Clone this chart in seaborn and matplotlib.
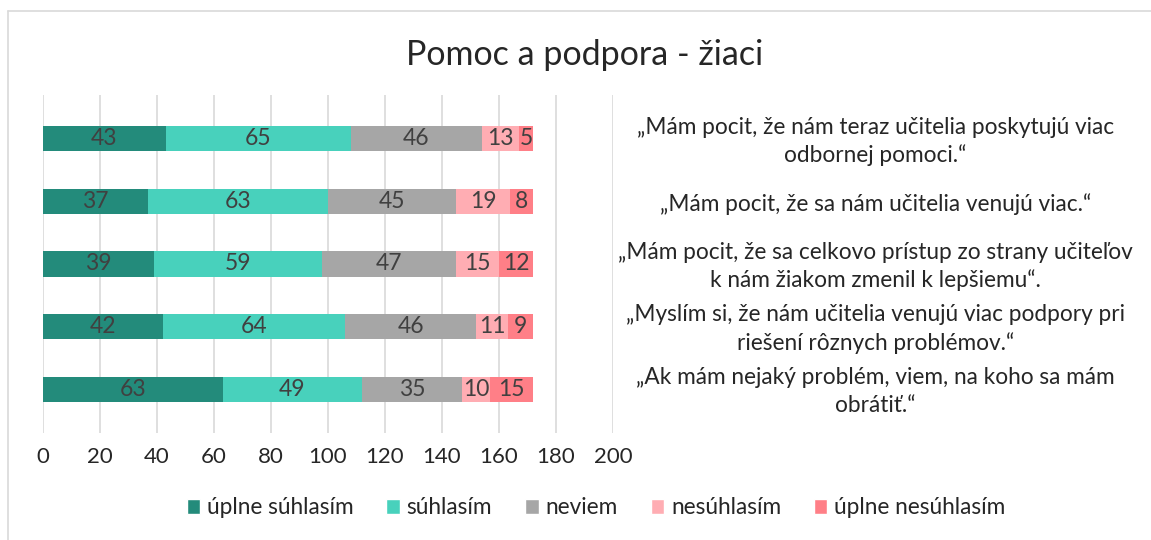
import pandas as pd
import matplotlib
matplotlib.use("Agg")
import matplotlib.pyplot as plt
from matplotlib.lines import Line2D
from matplotlib.patches import Patch
import seaborn as sns

# vyroky (poradie zhora nadol)
vyroky = [
    "„Mám pocit, že nám teraz učitelia poskytujú viac\nodbornej pomoci.“",
    "„Mám pocit, že sa nám učitelia venujú viac.“",
    "„Mám pocit, že sa celkovo prístup zo strany učiteľov\nk nám žiakom zmenil k lepšiemu“.",
    "„Myslím si, že nám učitelia venujú viac podpory pri\nriešení rôznych problémov.“",
    "„Ak mám nejaký problém, viem, na koho sa mám\nobrátiť.“",
]
odpovede = ["úplne súhlasím", "súhlasím", "neviem", "nesúhlasím", "úplne nesúhlasím"]
uplne_suhlasim = [43, 37, 39, 42, 63]
suhlasim = [65, 63, 59, 64, 49]
neviem = [46, 45, 47, 46, 35]
nesuhlasim = [13, 19, 15, 11, 10]
uplne_nesuhlasim = [5, 8, 12, 9, 15]
farby = ["#238b7b", "#48d1bc", "#a6a6a6", "#ffadb3", "#ff7f87"]

sns.set_style("white")
plt.rcParams["font.family"] = ["Lato", "DejaVu Sans"]

df = pd.DataFrame({
    "vyrok": vyroky,
    odpovede[0]: uplne_suhlasim,
    odpovede[1]: suhlasim,
    odpovede[2]: neviem,
    odpovede[3]: nesuhlasim,
    odpovede[4]: uplne_nesuhlasim,
})
# kumulativne sucty pre skladane stlpce
kum = df[odpovede].cumsum(axis=1)

fig = plt.figure(figsize=(11.51, 5.4), dpi=100)
ax = fig.add_axes([43 / 1151, 1 - 433 / 540, 570 / 1151, 338 / 540])

# najprv najdlhsi, potom kratsie cez neho
for i in range(len(odpovede) - 1, -1, -1):
    sns.barplot(x=kum[odpovede[i]], y=df["vyrok"], orient="h", color=farby[i],
                width=0.4, saturation=1, ax=ax, zorder=3, linewidth=0)

# hodnoty v stlpcoch
for j in range(len(df)):
    for i, o in enumerate(odpovede):
        hodnota = df[o].iloc[j]
        stred = kum[o].iloc[j] - hodnota / 2
        ax.text(stred, j, str(hodnota), ha="center", va="center",
                fontsize=16.5, color="#404040", zorder=4)

ax.set_xlim(0, 200)
ax.set_ylim(4.7, -0.7)
ax.set_xticks(range(0, 201, 20))
ax.grid(axis="x", color="#d9d9d9", linewidth=1.2, zorder=0)
ax.set_xlabel("")
ax.set_ylabel("")
ax.set_yticks([])
for s in ax.spines.values():
    s.set_visible(False)
ax.tick_params(axis="x", length=0, labelsize=16, labelcolor="#262626", pad=10)

# vyroky vpravo
for j, v in enumerate(vyroky):
    ax.text(1.46, j + 0.04, v, transform=ax.get_yaxis_transform(), ha="center",
            va="center", fontsize=16.3, color="#262626", linespacing=1.38)

fig.suptitle("Pomoc a podpora - žiaci", x=585 / 1151, y=1 - 55 / 540,
             va="center", fontsize=24.5, color="#262626")

handles = [Patch(facecolor=farby[i], label=odpovede[i]) for i in range(len(odpovede))]
fig.legend(handles=handles, loc="center", bbox_to_anchor=(596 / 1151, 1 - 508 / 540),
           ncol=5, frameon=False, fontsize=16.3, handlelength=0.6, handleheight=0.6,
           handletextpad=0.3, columnspacing=1.45, labelcolor="#262626")

# ramik grafu
fig.add_artist(Line2D([8 / 1151, 1], [1 - 11 / 540, 1 - 11 / 540], color="#d9d9d9", lw=1.2))
fig.add_artist(Line2D([8 / 1151, 8 / 1151], [0, 1 - 11 / 540], color="#d9d9d9", lw=1.2))

fig.savefig("out.png", dpi=100)
